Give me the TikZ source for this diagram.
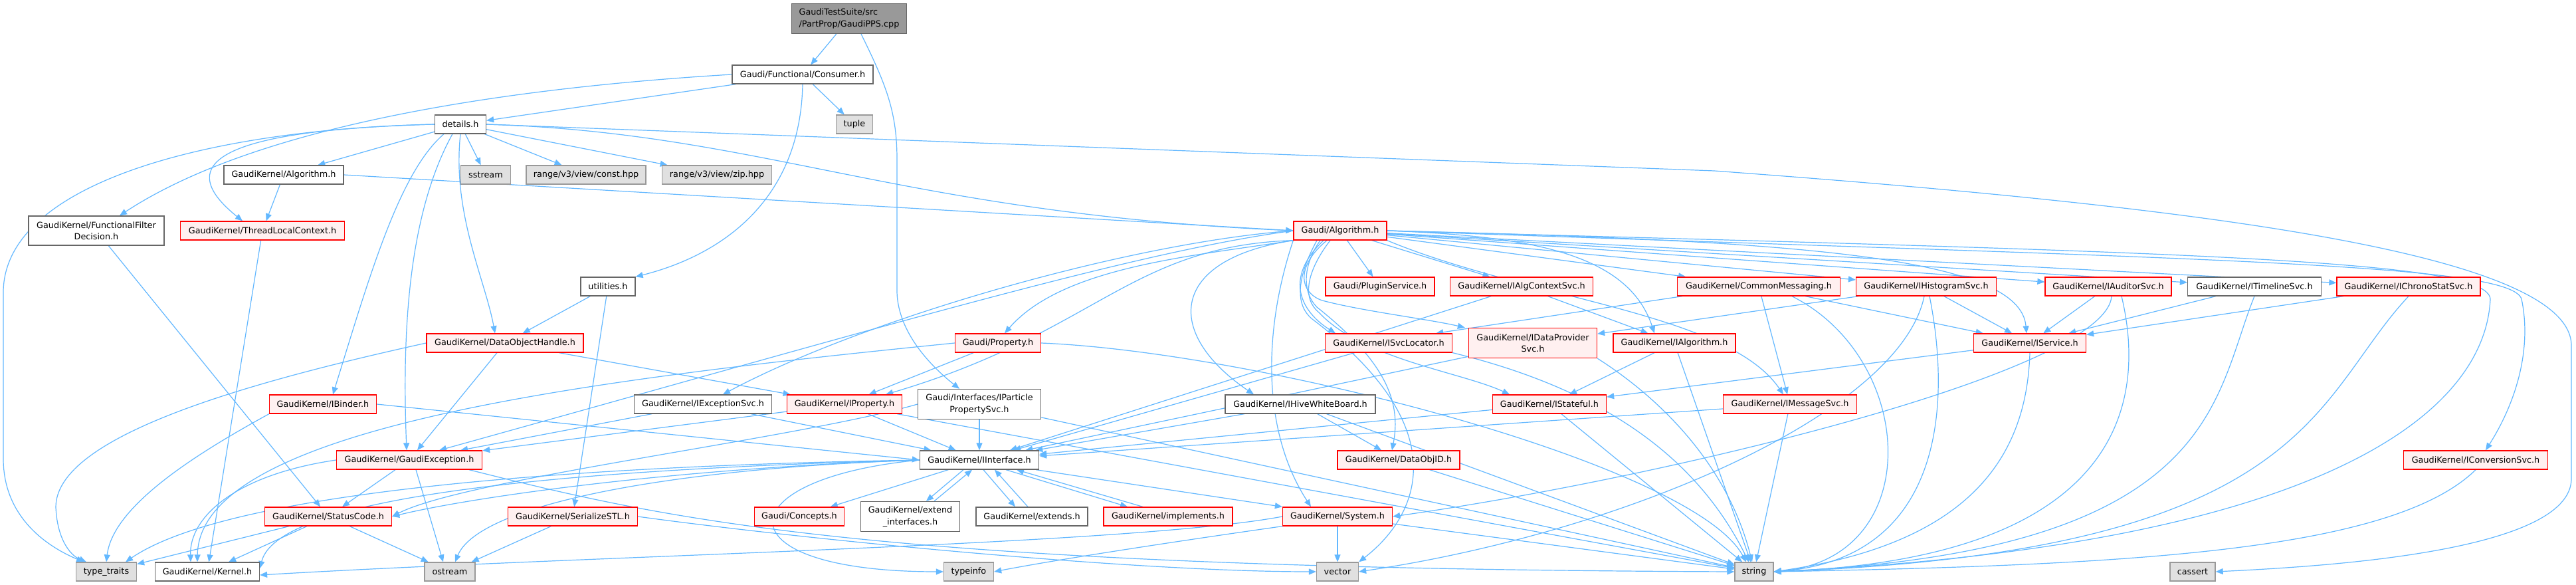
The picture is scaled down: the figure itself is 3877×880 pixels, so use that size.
\documentclass[tikz,border=0pt]{standalone}
\usepackage{fontspec}
\setmainfont{DejaVu Sans}
\usetikzlibrary{arrows.meta,backgrounds}
\definecolor{cblue}{HTML}{63B8FF}
\definecolor{cred}{HTML}{FF0000}
\definecolor{cpink}{HTML}{FFF0F0}
\definecolor{cgrayb}{HTML}{666666}
\definecolor{clgrayb}{HTML}{999999}
\definecolor{clgrayf}{HTML}{E0E0E0}
\definecolor{ctop}{HTML}{999999}
\begin{document}
\begin{tikzpicture}[x=1pt,y=-1pt,
 box/.style={draw, line width=1.3pt, inner sep=0pt, minimum height=28pt, font=\fontsize{12.8pt}{17.5pt}\selectfont, align=center},
 wn/.style={box, draw=cgrayb, fill=white},
 rn/.style={box, draw=cred, fill=cpink},
 gn/.style={box, draw=clgrayb, fill=clgrayf},
 tn/.style={box, draw=cgrayb, fill=ctop, align=left},
 ln/.style={draw=cblue, line width=1.2pt, -{Triangle[length=11pt,width=9pt]}},
]
\useasboundingbox (0,0) rectangle (3877,880);
% row 0-2
\node[tn, minimum width=173pt, minimum height=45pt] (top) at (1278,28) {GaudiTestSuite/src\\/PartProp/GaudiPPS.cpp};
\node[wn, minimum width=212pt] (consumer) at (1208,112) {Gaudi/Functional/Consumer.h};
\node[wn, minimum width=77pt] (details) at (693,187) {details.h};
\node[gn, minimum width=55pt] (tuple) at (1286,187) {tuple};
% row 3
\node[wn, minimum width=180pt] (gkalg) at (427,263) {GaudiKernel/Algorithm.h};
\node[gn, minimum width=75pt] (sstream) at (731,263) {sstream};
\node[gn, minimum width=180pt] (rconst) at (882,263) {range/v3/view/const.hpp};
\node[gn, minimum width=165pt] (rzip) at (1079,263) {range/v3/view/zip.hpp};
% row 4
\node[wn, minimum width=204pt, minimum height=44pt] (ffd) at (145,347) {GaudiKernel/FunctionalFilter\\Decision.h};
\node[rn, minimum width=247pt] (tlc) at (395,347) {GaudiKernel/ThreadLocalContext.h};
\node[rn, minimum width=140pt] (galg) at (2017,347) {Gaudi/Algorithm.h};
% row 5
\node[wn, minimum width=82pt] (utilities) at (915,431) {utilities.h};
\node[rn, minimum width=164pt] (plugin) at (2077,431) {Gaudi/PluginService.h};
\node[rn, minimum width=215pt] (ialgctx) at (2290,431) {GaudiKernel/IAlgContextSvc.h};
\node[rn, minimum width=245pt] (commsg) at (2647,431) {GaudiKernel/CommonMessaging.h};
\node[rn, minimum width=211pt] (ihisto) at (2899,431) {GaudiKernel/IHistogramSvc.h};
\node[rn, minimum width=190pt] (iaud) at (3173,431) {GaudiKernel/IAuditorSvc.h};
\node[wn, minimum width=201pt] (itime) at (3393,431) {GaudiKernel/ITimelineSvc.h};
\node[rn, minimum width=216pt] (ichrono) at (3625,431) {GaudiKernel/IChronoStatSvc.h};
% row 6
\node[rn, minimum width=236pt] (dobjh) at (760,516) {GaudiKernel/DataObjectHandle.h};
\node[rn, minimum width=129pt] (prop) at (1502,516) {Gaudi/Property.h};
\node[rn, minimum width=191pt] (isvcloc) at (2090,516) {GaudiKernel/ISvcLocator.h};
\node[rn, minimum width=193pt, minimum height=45pt] (idp) at (2307,516) {GaudiKernel/IDataProvider\\Svc.h};
\node[rn, minimum width=184pt] (ialg) at (2520,516) {GaudiKernel/IAlgorithm.h};
\node[rn, minimum width=169pt] (iserv) at (3055,516) {GaudiKernel/IService.h};
% row 7
\node[rn, minimum width=161pt] (ibinder) at (486,608) {GaudiKernel/IBinder.h};
\node[wn, minimum width=207pt] (iexc) at (1058,608) {GaudiKernel/IExceptionSvc.h};
\node[rn, minimum width=173pt] (iprop) at (1271,608) {GaudiKernel/IProperty.h};
\node[wn, minimum width=185pt, minimum height=45pt] (ipps) at (1474,608) {Gaudi/Interfaces/IParticle\\PropertySvc.h};
\node[wn, minimum width=226pt] (ihive) at (1957,608) {GaudiKernel/IHiveWhiteBoard.h};
\node[rn, minimum width=171pt] (istate) at (2332,608) {GaudiKernel/IStateful.h};
\node[rn, minimum width=201pt] (imsg) at (2694,608) {GaudiKernel/IMessageSvc.h};
% row 8
\node[rn, minimum width=219pt] (gexc) at (616,692) {GaudiKernel/GaudiException.h};
\node[wn, minimum width=179pt] (iintf) at (1474,692) {GaudiKernel/IInterface.h};
\node[rn, minimum width=184pt] (doid) at (2105,692) {GaudiKernel/DataObjID.h};
\node[rn, minimum width=217pt] (iconv) at (3726,692) {GaudiKernel/IConversionSvc.h};
% row 9
\node[rn, minimum width=191pt] (sc) at (494,777) {GaudiKernel/StatusCode.h};
\node[rn, minimum width=195pt] (ser) at (862,777) {GaudiKernel/SerializeSTL.h};
\node[rn, minimum width=135pt] (concepts) at (1203,777) {Gaudi/Concepts.h};
\node[wn, minimum width=149pt, minimum height=45pt] (extif) at (1370,777) {GaudiKernel/extend\\\_interfaces.h};
\node[wn, minimum width=168pt] (extends) at (1553,777) {GaudiKernel/extends.h};
\node[rn, minimum width=194pt] (impl) at (1758,777) {GaudiKernel/implements.h};
\node[rn, minimum width=165pt] (system) at (2013,777) {GaudiKernel/System.h};
% row 10
\node[gn, minimum width=91pt] (tt) at (160,860) {type\_traits};
\node[wn, minimum width=157pt] (kernel) at (312,860) {GaudiKernel/Kernel.h};
\node[gn, minimum width=76pt] (ostream) at (677,860) {ostream};
\node[gn, minimum width=75pt] (typeinfo) at (1458,860) {typeinfo};
\node[gn, minimum width=63pt] (vector) at (2013,860) {vector};
\node[gn, minimum width=58pt] (string) at (2640,860) {string};
\node[gn, minimum width=68pt] (cassert) at (3300,860) {cassert};

\begin{pgfonlayer}{background}
\fill[white] (0,0) rectangle (3877,880);
% top
\draw[ln] (top) -- (consumer);
\draw[ln] ([xshift=18pt]top.south) .. controls (1335,130) and (1350,170) .. (1350,240) -- (1350,440) .. controls (1352,500) and (1400,550) .. ([xshift=-30pt]ipps.north);
% consumer
\draw[ln] (consumer) -- (details);
\draw[ln] (consumer) -- (tuple);
\draw[ln] (consumer.south) .. controls (1205,290) and (1100,380) .. (utilities.north east);
\draw[ln] (consumer.west) .. controls (800,130) and (400,180) .. ([xshift=35pt]ffd.north);
% details
\draw[ln] (details.west) .. controls (300,195) and (5,280) .. (5,440) -- (5,690) .. controls (5,790) and (90,830) .. ([xshift=-34pt]tt.north);
\draw[ln] (details.west) .. controls (350,195) and (250,240) .. ([xshift=-30pt]tlc.north);
\draw[ln] (details) -- (gkalg);
\draw[ln] (details) -- (sstream);
\draw[ln] (details) -- (rconst);
\draw[ln] (details) -- (rzip);
\draw[ln] (details.south) .. controls (680,320) and (730,420) .. ([xshift=-15pt]dobjh.north);
\draw[ln] ([xshift=-25pt]details.south) .. controls (600,260) and (555,420) .. ([xshift=15pt]ibinder.north);
\draw[ln] ([xshift=-12pt]details.south) .. controls (610,330) and (606,520) .. ([xshift=-4pt]gexc.north);
\draw[ln] (details.east) .. controls (1150,200) and (1350,320) .. (galg.west);
\draw[ln] (details.east) -- (2580,257) .. controls (3300,310) and (3870,380) .. (3870,520) -- (3870,720) .. controls (3870,830) and (3500,852) .. (cassert.east);
% GaudiKernel/Algorithm.h
\draw[ln] (gkalg) -- (tlc);
\draw[ln] (gkalg.east) -- (galg.west);
\draw[ln] (ffd) -- (sc);
\draw[ln] (tlc) -- (kernel);
\draw[ln] (utilities) -- (dobjh);
\draw[ln] (utilities) -- (ser);
% DataObjectHandle
\draw[ln] (dobjh) -- (gexc);
\draw[ln] (dobjh) -- (iprop);
\draw[ln] (dobjh.west) .. controls (350,580) and (84,660) .. (84,763) .. controls (86,810) and (105,835) .. ([xshift=-30pt]tt.north);
% IBinder
\draw[ln] (ibinder.south west) .. controls (300,680) and (170,760) .. (tt.north);
\draw[ln] (ibinder.east) -- (iintf.west);
% GaudiException
\draw[ln] (gexc.west) .. controls (350,715) and (285,780) .. ([xshift=-25pt]kernel.north);
\draw[ln] (gexc) -- (sc);
\draw[ln] ([xshift=10pt]gexc.south) -- ([xshift=-10pt]ostream.north);
\draw[ln] ([xshift=90pt]gexc.south) .. controls (1000,780) and (1300,855) .. (string.west);
% StatusCode
\draw[ln] (sc) -- (tt);
\draw[ln] (sc) -- (kernel);
\draw[ln] (sc) -- (ostream);
% Property
\draw[ln] (prop) -- (iprop);
\draw[ln] (prop.west) .. controls (900,570) and (300,640) .. ([xshift=-15pt]kernel.north);
\draw[ln] (prop.east) .. controls (1900,530) and (2550,700) .. ([xshift=-12pt]string.north);
% IProperty
\draw[ln] (iprop) -- (gexc);
\draw[ln] (iprop) -- (iintf);
\draw[ln] (iprop) -- (string);
% IExceptionSvc
\draw[ln] (iexc) -- (gexc);
\draw[ln] (iexc) -- (iintf);
% IParticlePropertySvc
\draw[ln] (ipps) -- (iintf);
\draw[ln] (ipps.west) .. controls (1200,660) and (700,720) .. (sc.east);
\draw[ln] (ipps) -- (string);
% IInterface
\draw[ln] ([xshift=-24pt]iintf.south) -- ([xshift=24pt]extif.north);
\draw[ln] ([xshift=36pt]extif.north) -- ([xshift=-11pt]iintf.south);
\draw[ln] ([xshift=6pt]iintf.south) -- ([xshift=-25pt]extends.north);
\draw[ln] ([xshift=-6pt]extends.north) -- ([xshift=23pt]iintf.south);
\draw[ln] ([xshift=40pt]iintf.south) -- ([xshift=-61pt]impl.north);
\draw[ln] ([xshift=-38pt]impl.north) -- ([xshift=56pt]iintf.south);
\draw[ln] (iintf.west) .. controls (1000,705) and (700,750) .. (sc.east);
\draw[ln] (iintf.west) .. controls (900,705) and (420,740) .. ([yshift=5pt]kernel.east);
\draw[ln] (iintf.west) .. controls (900,700) and (350,735) .. ([xshift=29pt]tt.north);
\draw[ln] (iintf.west) .. controls (1000,705) and (720,760) .. ([xshift=8pt]ostream.north);
\draw[ln] (iintf.west) .. controls (1090,720) and (1080,860) .. (typeinfo.west);
\draw[ln] (iintf) -- (concepts);
\draw[ln] ([xshift=-5pt]iintf.south east) -- (system.north west);
% System
\draw[ln] (system.west) .. controls (1700,820) and (900,835) .. ([yshift=-5pt]kernel.east);
\draw[ln] (system) -- (vector);
\draw[ln] (system) -- (string);
\draw[ln] (system.south west) .. controls (1800,810) and (1600,840) .. (typeinfo.east);
% SerializeSTL
\draw[ln] (ser) -- (ostream);
\draw[ln] (ser.east) .. controls (1200,810) and (1700,860) .. (vector.west);
% Gaudi/Algorithm.h
\draw[ln] (galg) -- (plugin);
\draw[ln] (galg) -- (ialgctx);
\draw[ln] (galg) -- (commsg);
\draw[ln] (galg) -- (ihisto);
\draw[ln] (galg) -- (iaud);
\draw[ln] (galg) -- (itime);
\draw[ln] (galg) -- (ichrono);
\draw[ln] (galg.east) .. controls (3300,390) and (3780,395) .. (3795,450) .. controls (3810,520) and (3790,600) .. ([xshift=15pt]iconv.north);
\draw[ln] (galg.east) .. controls (3300,380) and (3745,390) .. (3748,450) .. controls (3740,620) and (3500,820) .. (string.east);
\draw[ln] ([xshift=-25pt]galg.south) .. controls (1930,420) and (1960,470) .. ([xshift=-80pt]isvcloc.north);
\draw[ln] ([xshift=-20pt]galg.south) .. controls (1950,400) and (1955,440) .. (1990,452) .. controls (2050,468) and (2150,480) .. ([xshift=-5pt]idp.north west);
\draw[ln] (galg.east) .. controls (2300,355) and (2450,380) .. ([xshift=-30pt]ialg.north);
\draw[ln] (galg.east) .. controls (2700,362) and (3040,385) .. ([xshift=-5pt]iserv.north);
\draw[ln] (galg.south west) .. controls (1800,385) and (1600,400) .. ([xshift=10pt]prop.north);
\draw[ln] (galg.west) .. controls (1700,365) and (1300,480) .. ([xshift=30pt]iexc.north);
\draw[ln] (galg.west) .. controls (1700,380) and (1300,500) .. ([xshift=45pt]gexc.north);
\draw[ln] (galg.south west) .. controls (1700,370) and (1650,500) .. ([xshift=-25pt]iprop.north east);
\draw[ln] (galg.south west) .. controls (1760,390) and (1750,500) .. ([xshift=-70pt]ihive.north);
\draw[ln] ([xshift=-15pt]galg.south) .. controls (1965,410) and (1960,450) .. (1985,470) .. controls (2050,540) and (2200,560) .. ([xshift=-60pt]istate.north);
\draw[ln] ([xshift=-30pt]galg.south) .. controls (1960,400) and (1960,440) .. (1982,462) .. controls (2080,540) and (2110,600) .. ([xshift=-10pt]doid.north);
\draw[ln] (galg.south east) .. controls (2300,450) and (2600,470) .. ([xshift=-10pt]imsg.north);
\draw[ln] (galg.south west) .. controls (1900,500) and (1900,650) .. ([xshift=-40pt]system.north);
\draw[ln] ([xshift=-35pt]galg.south) .. controls (1950,420) and (1950,460) .. (1975,480) .. controls (2200,650) and (2130,780) .. (vector.north east);
% row 5 others
\draw[ln] (ialgctx) -- (ialg);
\draw[ln] (ialgctx) -- (iintf);
\draw[ln] (commsg) -- (iserv);
\draw[ln] (commsg) -- (imsg);
\draw[ln] ([xshift=8pt]commsg.south west) -- ([xshift=-25pt]isvcloc.north east);
\draw[ln] ([xshift=50pt]commsg.south) .. controls (2885,540) and (2900,840) .. (string.east);
\draw[ln] (ihisto) -- (idp);
\draw[ln] (ihisto) -- (iserv);
\draw[ln] ([xshift=-3pt]ihisto.south) .. controls (2860,620) and (2450,800) .. (vector.east);
\draw[ln] ([xshift=5pt]ihisto.south) .. controls (2935,600) and (2930,840) .. (string.east);
\draw[ln] (iaud) -- (iserv);
\draw[ln] ([xshift=5pt]iaud.south) .. controls (3170,560) and (2500,720) .. (system.east);
\draw[ln] ([xshift=20pt]iaud.south) .. controls (3230,600) and (3200,840) .. (string.east);
\draw[ln] (itime) -- (iserv);
\draw[ln] (itime.south) .. controls (3330,600) and (3340,830) .. (string.east);
\draw[ln] (ichrono) -- (iserv);
\draw[ln] (ichrono.south) .. controls (3480,600) and (3480,830) .. (string.east);
\draw[ln] (iconv.south) .. controls (3600,830) and (3200,850) .. (string.east);
% row 6
\draw[ln] (isvcloc) -- (iintf);
\draw[ln] (isvcloc.south east) .. controls (2430,590) and (2560,700) .. ([xshift=-8pt]string.north);
\draw[ln] (idp) -- (iintf);
\draw[ln] (idp.south east) .. controls (2500,600) and (2600,700) .. ([xshift=-3pt]string.north);
\draw[ln] (ialg) -- (istate);
\draw[ln] (ialg) -- (string);
\draw[ln] (iserv) -- (istate);
\draw[ln] (iserv.south) .. controls (3050,700) and (2950,820) .. (string.east);
% row 7
\draw[ln] (istate) -- (iintf);
\draw[ln] (istate) -- (string);
\draw[ln] (ihive) -- (doid);
\draw[ln] (ihive) -- (iintf);
\draw[ln] (ihive) -- (string);
\draw[ln] (imsg) -- (iintf);
\draw[ln] (imsg) -- (string);
\draw[ln] (doid) -- (string);
\end{pgfonlayer}
\end{tikzpicture}
\end{document}
